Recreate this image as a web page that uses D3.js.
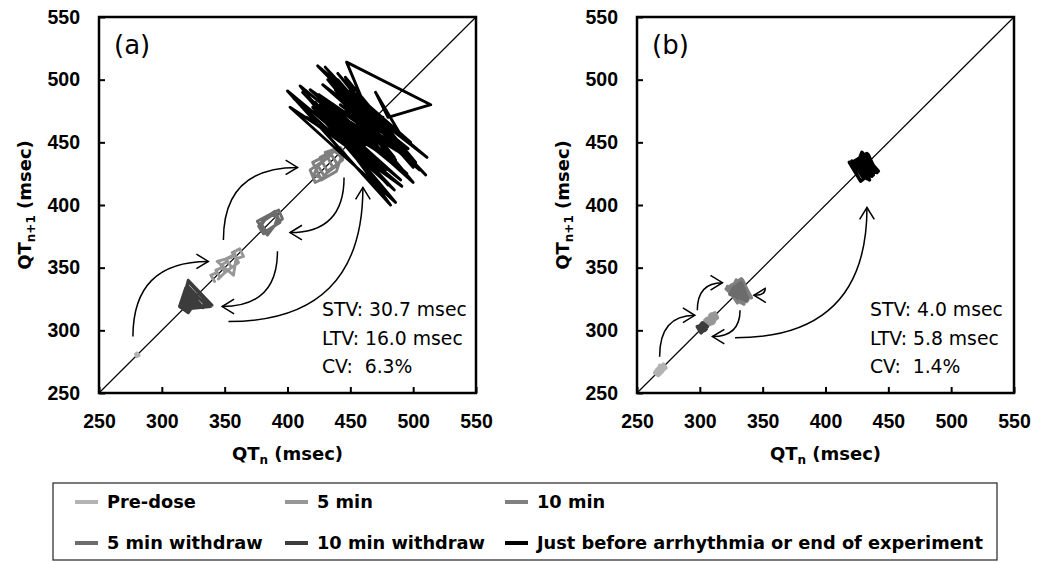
<!DOCTYPE html>
<html>
<head>
<meta charset="utf-8">
<script src="https://cdn.jsdelivr.net/npm/d3@7"></script>
<style>
  body { margin: 0; background: #fff; }
  svg { display: block; font-family: 'DejaVu Sans', Verdana, sans-serif; }
  .axis .tick text { font-weight: bold; font-size: 19.5px; fill: #000; }
  .axis .tick line { stroke: #000; stroke-width: 2; }
  .axis__title { font-weight: bold; font-size: 18px; }
  .stat { font-size: 18.8px; white-space: pre; }
  .panel__label { font-size: 26px; }
  .legend text { font-weight: bold; font-size: 17.8px; }
</style>
</head>
<body>
<svg id="chart" width="1037" height="562"></svg>
<script>
/* global d3 */

// Axis ticks (msec)
const ticks = [250, 300, 350, 400, 450, 500, 550]

// Phases, in legend order
const phases = ['Pre-dose', '5 min', '10 min', '5 min withdraw', '10 min withdraw',
  'Just before arrhythmia or end of experiment']

// QT sequences, panel (a)
const aPreDose = [279, 281, 280, 282, 280, 279, 281, 280, 281]
const a5min = [340, 342, 339, 344, 346, 343, 348, 350, 347, 352, 355, 351, 357, 360, 356, 362, 365, 359, 357, 344, 355, 358, 361, 354, 349, 345, 341]
const a10min = [425, 430, 422, 418, 428, 435, 440, 432, 426, 438, 444, 436, 430, 442, 446, 440, 433, 428, 421, 424, 431, 437, 443, 439, 427, 420, 434, 441]
const a5minWithdraw = [378, 382, 388, 392, 390, 384, 376, 387, 393, 396, 389, 383, 379, 385, 391, 394, 386, 381, 377, 383, 390, 395]
const a10minWithdraw = [320, 322, 318, 325, 320, 336, 319, 322, 330, 318, 321, 339, 319, 317, 324, 320, 333, 318, 322, 328, 319, 316, 321, 340, 320, 318, 326, 321, 314, 319, 334, 322]
const aJustBefore = [405, 485, 412, 490, 420, 478, 410, 495, 425, 488, 432, 500, 418, 492, 440, 505, 428, 496, 445, 486,
  436, 498, 450, 492, 442, 480, 455, 470, 448, 488, 430, 475, 422, 482, 400, 491, 415, 470, 435, 478,
  425, 488, 445, 465, 458, 475, 440, 500, 430, 510, 424, 511, 438, 495, 452, 484, 460, 478, 446, 502,
  434, 476, 470, 462, 480, 455, 475, 447, 514, 480, 470, 490, 456, 472, 462, 448, 485, 438, 492, 426,
  480, 416, 486, 402, 478, 428, 470, 444, 466, 452]

// QT sequences, panel (b)
const bPreDose = [266, 268, 265, 267, 270, 268, 272, 270, 267, 264, 266, 269, 271, 273, 270, 268]
const b5min = [306, 308, 305, 309, 311, 308, 312, 314, 310, 307, 309, 313, 311, 306, 304, 308, 310]
const b10min = [328, 332, 325, 336, 330, 322, 334, 340, 327, 331, 338, 324, 329, 335, 321, 333, 341, 326, 330, 337, 323, 332, 339, 328, 325, 334, 331, 336, 324, 329, 340, 327, 333, 322, 335, 330, 338, 326, 332, 329]
const b5minWithdraw = [330, 333, 328, 335, 331, 327, 334, 329, 332, 336, 330, 326, 333, 338, 325, 331, 337, 324, 329]
const b10minWithdraw = [302, 304, 300, 303, 305, 301, 299, 302, 306, 303, 300, 304, 301, 298, 303]
const bJustBefore = [428, 432, 425, 436, 430, 422, 434, 440, 427, 431, 438, 424, 429, 435, 420, 433, 441, 426, 430, 437, 423, 432, 439, 428, 419, 434, 431, 436, 424, 429, 442, 427, 433, 421, 435, 430]

// Variability indices
const statsA = ['STV: 30.7 msec', 'LTV: 16.0 msec', 'CV:  6.3%']
const statsB = ['STV: 4.0 msec', 'LTV: 5.8 msec', 'CV:  1.4%']

// Transition arrows [fromQTn, fromQTn+1, toQTn, toQTn+1, leaves vertically ('v') or horizontally ('h')]
const arrowsA = [
  [277, 295, 337, 355, 'v'],
  [349, 372, 408, 430, 'v'],
  [445, 422, 402, 378, 'v'],
  [392, 363, 348, 319, 'v'],
  [353, 307, 460, 414, 'h']
]
const arrowsB = [
  [268, 279, 296, 312, 'v'],
  [298, 316, 318, 338, 'v'],
  [352, 333, 343, 328, 'v'],
  [332, 316, 310, 295, 'v'],
  [328, 294, 433, 398, 'h']
]

const color = d3.scaleOrdinal()
  .domain(phases)
  .range(['#b3b3b3', '#979797', '#808080', '#6c6c6c', '#3c3c3c', '#000000'])

const width = 377
const height = 376

const x = d3.scaleLinear().domain([250, 550]).range([0, width])
const y = d3.scaleLinear().domain([250, 550]).range([height, 0])

const svg = d3.select('#chart')

makePanel({ left: 99, top: 17, label: '(a)', statsX: 223,
  series: [aPreDose, a5min, a10min, a5minWithdraw, a10minWithdraw, aJustBefore],
  stats: statsA, arrows: arrowsA, strokeWidth: 2.9 })

makePanel({ left: 637, top: 17, label: '(b)', statsX: 233,
  series: [bPreDose, b5min, b10min, b5minWithdraw, b10minWithdraw, bJustBefore],
  stats: statsB, arrows: arrowsB, strokeWidth: 3.6 })

makeLegend()

function makePanel(opts) {
  const g = svg.append('g')
    .attr('transform', `translate(${opts.left}, ${opts.top})`)

  // identity line
  g.append('line')
    .attr('x1', x(250)).attr('y1', y(250))
    .attr('x2', x(550)).attr('y2', y(550))
    .attr('stroke', '#000')
    .attr('stroke-width', 1.2)

  // Poincaré loops: (QTn, QTn+1)
  const line = d3.line()
    .x(d => x(d[0]))
    .y(d => y(d[1]))

  opts.series.forEach((seq, i) => {
    g.append('path')
      .datum(d3.pairs(seq))
      .attr('d', line)
      .attr('fill', 'none')
      .attr('stroke', color(phases[i]))
      .attr('stroke-width', opts.strokeWidth)
      .attr('stroke-linejoin', 'round')
      .attr('stroke-linecap', 'round')
  })

  // arrows
  opts.arrows.forEach(a => {
    const s = [x(a[0]), y(a[1])]
    const e = [x(a[2]), y(a[3])]
    const c = a[4] === 'v' ? [s[0], e[1]] : [e[0], s[1]]
    g.append('path')
      .attr('d', `M${s[0]},${s[1]} Q${c[0]},${c[1]} ${e[0]},${e[1]}`)
      .attr('fill', 'none')
      .attr('stroke', '#000')
      .attr('stroke-width', 1.5)

    const ang = Math.atan2(e[1] - c[1], e[0] - c[0])
    const len = 14
    const spread = 0.55
    const p1 = [e[0] - len * Math.cos(ang - spread), e[1] - len * Math.sin(ang - spread)]
    const p2 = [e[0] - len * Math.cos(ang + spread), e[1] - len * Math.sin(ang + spread)]
    g.append('path')
      .attr('d', `M${p1[0]},${p1[1]} L${e[0]},${e[1]} L${p2[0]},${p2[1]}`)
      .attr('fill', 'none')
      .attr('stroke', '#000')
      .attr('stroke-width', 1.5)
  })

  // axes, ticks pointing inward
  const xAxis = g.append('g')
    .attr('class', 'axis axis__x')
    .attr('transform', `translate(0, ${height})`)
    .call(d3.axisBottom(x).tickValues(ticks).tickSize(-6).tickSizeOuter(0).tickPadding(21))
  xAxis.select('.domain').remove()

  const yAxis = g.append('g')
    .attr('class', 'axis axis__y')
    .call(d3.axisLeft(y).tickValues(ticks).tickSize(-6).tickSizeOuter(0).tickPadding(19))
  yAxis.select('.domain').remove()

  // frame
  g.append('rect')
    .attr('width', width)
    .attr('height', height)
    .attr('fill', 'none')
    .attr('stroke', '#000')
    .attr('stroke-width', 2.5)

  // panel label
  g.append('text')
    .attr('class', 'panel__label')
    .attr('x', 15)
    .attr('y', 37)
    .text(opts.label)

  // stats
  g.append('g')
    .selectAll('text')
    .data(opts.stats)
    .join('text')
    .attr('class', 'stat')
    .attr('x', opts.statsX)
    .attr('y', (d, i) => 299 + i * 28.5)
    .text(d => d)

  // axis titles
  const xt = g.append('text')
    .attr('class', 'axis__title')
    .attr('x', width / 2)
    .attr('y', 443)
    .attr('text-anchor', 'middle')
  xt.append('tspan').text('QT')
  xt.append('tspan').attr('font-size', 12).attr('dy', 4).text('n')
  xt.append('tspan').attr('dy', -4).text(' (msec)')

  const yt = g.append('text')
    .attr('class', 'axis__title')
    .attr('transform', `translate(-68, ${height / 2}) rotate(-90)`)
    .attr('text-anchor', 'middle')
  yt.append('tspan').text('QT')
  yt.append('tspan').attr('font-size', 12).attr('dy', 4).text('n+1')
  yt.append('tspan').attr('dy', -4).text(' (msec)')
}

function makeLegend() {
  const lg = svg.append('g').attr('class', 'legend')

  lg.append('rect')
    .attr('x', 53)
    .attr('y', 483)
    .attr('width', 944)
    .attr('height', 77)
    .attr('fill', 'none')
    .attr('stroke', '#333')
    .attr('stroke-width', 1.3)

  const cols = [75, 285, 505]
  const rows = [502, 543]

  const item = lg.selectAll('g.item')
    .data(phases)
    .join('g')
    .attr('class', 'item')
    .attr('transform', (d, i) => `translate(${cols[i % 3]}, ${rows[Math.floor(i / 3)]})`)

  item.append('line')
    .attr('x1', 0).attr('x2', 23)
    .attr('stroke', d => color(d))
    .attr('stroke-width', 4)

  item.append('text')
    .attr('x', 32)
    .attr('dy', '0.36em')
    .text(d => d)
}
</script>
</body>
</html>
